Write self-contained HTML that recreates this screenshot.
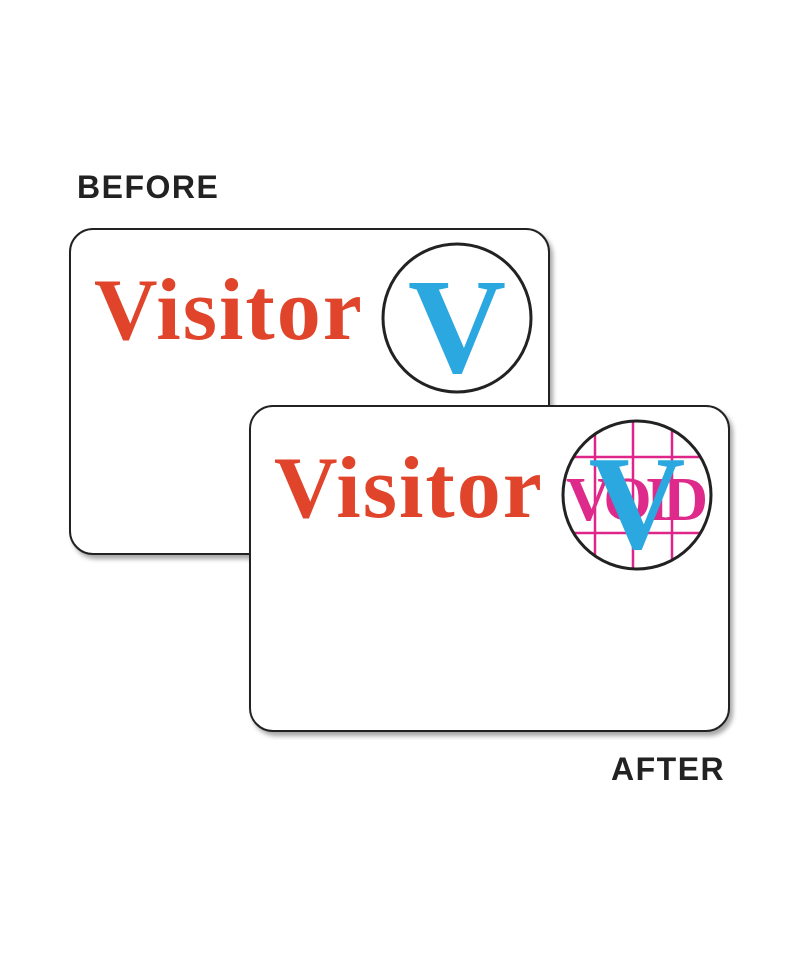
<!DOCTYPE html>
<html><head><style>
body{margin:0;width:800px;height:960px;background:#fff;position:relative;overflow:hidden}
.card{position:absolute;width:481px;height:327px;border:2px solid #222;border-radius:24px;background:#fff;box-shadow:3px 4px 5px rgba(0,0,0,.35);box-sizing:border-box}
.lbl{position:absolute;font:bold 32px "Liberation Sans",sans-serif;color:#222;letter-spacing:1.5px}
.vis{position:absolute;font:bold 88px "Liberation Serif",serif;color:#e0452c;line-height:1;letter-spacing:2px}
</style></head><body>
<div class="lbl" style="left:77px;top:169px">BEFORE</div>
<div class="card" style="left:69px;top:228px"></div>
<div class="vis" style="left:94px;top:267px">Visitor</div>
<svg style="position:absolute;left:0;top:0" width="800" height="960">
<circle cx="457" cy="318" r="74" fill="#fff" stroke="#222" stroke-width="3"/>
<text x="457" y="372" text-anchor="middle" font-family="Liberation Serif" font-weight="bold" font-size="136" fill="#2ba8df">V</text>
</svg>
<div class="card" style="left:249px;top:405px"></div>
<div class="vis" style="left:274px;top:445px">Visitor</div>
<svg style="position:absolute;left:0;top:0" width="800" height="960">
<defs><clipPath id="c"><circle cx="637" cy="495" r="74"/></clipPath></defs>
<circle cx="637" cy="495" r="74" fill="#fff"/>
<g clip-path="url(#c)" stroke="#e0258a" stroke-width="2.5">
<line x1="595" y1="400" x2="595" y2="600"/><line x1="633" y1="400" x2="633" y2="600"/><line x1="672" y1="400" x2="672" y2="600"/>
<line x1="550" y1="457" x2="730" y2="457"/><line x1="550" y1="533" x2="730" y2="533"/>
</g>
<text x="637" y="520" text-anchor="middle" font-family="Liberation Serif" font-weight="bold" font-size="62" fill="#de2a8a" clip-path="url(#c)" textLength="142">VOID</text>
<text x="637" y="548" text-anchor="middle" font-family="Liberation Serif" font-weight="bold" font-size="134" fill="#2ba8df">V</text>
<circle cx="637" cy="495" r="74" fill="none" stroke="#222" stroke-width="3"/>
</svg>
<div class="lbl" style="left:611px;top:751px">AFTER</div>
</body></html>
